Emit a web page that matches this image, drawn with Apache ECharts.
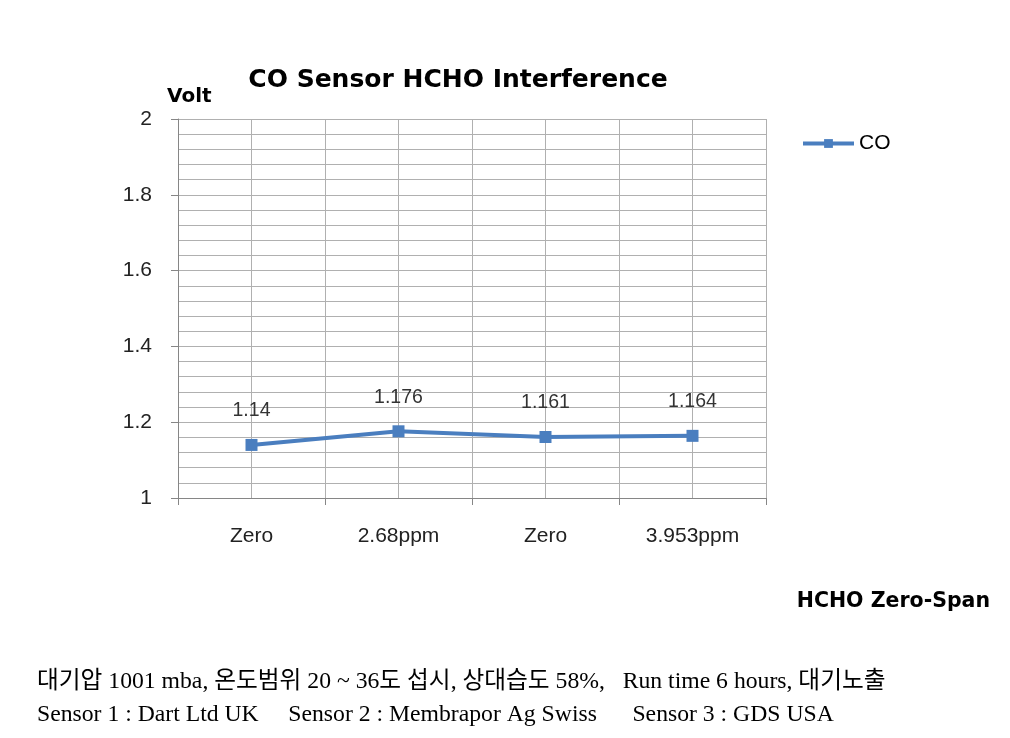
<!DOCTYPE html>
<html><head><meta charset="utf-8">
<script src="https://cdn.jsdelivr.net/npm/echarts@6/dist/echarts.min.js"></script>
<style>html,body{margin:0;padding:0;background:#fff}#c{width:1010px;height:738px}</style>
</head><body><div id="c"></div>
<script>
var categories = ['Zero', '2.68ppm', 'Zero', '3.953ppm'];
var coValues = [1.14, 1.176, 1.161, 1.164];
var seriesName = 'CO';
var titleText = 'CO Sensor HCHO Interference';
var yName = 'Volt';
var xName = 'HCHO Zero-Span';
var footLines = ['대기압 1001 mba, 온도범위 20 ~ 36도 섭시, 상대습도 58%,   Run time 6 hours, 대기노출',
                 'Sensor 1 : Dart Ltd UK     Sensor 2 : Membrapor Ag Swiss      Sensor 3 : GDS USA'];

var chart = echarts.init(document.getElementById('c'));
var grid = '#b0b0b0';
var sans = '"DejaVu Sans", Verdana, sans-serif';
var arial = '"Liberation Sans", Arial, sans-serif';
chart.setOption({
  animation: false,
  title: {text: titleText, left: 453, textAlign: 'center', top: 63,
    textStyle: {fontFamily: sans, fontWeight: 'bold', fontSize: 25, color: '#000'}},
  legend: {data: [seriesName], left: 796, top: 128, itemWidth: 51, itemHeight: 11,
    lineStyle: {width: 4},
    textStyle: {fontFamily: arial, fontSize: 21, color: '#000'}},
  grid: {left: 178, right: 244, top: 119, bottom: 240},
  xAxis: [{
    type: 'category', data: categories, boundaryGap: true,
    axisLine: {lineStyle: {color: '#868686', width: 1}},
    axisTick: {show: true, length: 7, lineStyle: {color: '#868686'}},
    axisLabel: {margin: 28, fontFamily: arial, fontSize: 21, color: '#222'},
    splitLine: {show: false},
    name: xName, nameLocation: 'end', nameGap: 224,
    nameTextStyle: {fontFamily: sans, fontWeight: 'bold', fontSize: 20.5, color: '#000',
      align: 'right', verticalAlign: 'top', padding: [93, 0, 0, 0]}
  }, {
    type: 'value', min: 0, max: 8, interval: 1, position: 'bottom',
    axisLine: {show: false}, axisTick: {show: false}, axisLabel: {show: false},
    splitLine: {show: true, lineStyle: {color: grid, width: 1}}
  }],
  yAxis: {
    type: 'value', min: 1, max: 2, interval: 0.2,
    name: yName, nameLocation: 'end', nameGap: 12,
    nameTextStyle: {fontFamily: sans, fontWeight: 'bold', fontSize: 20, color: '#000', align: 'left', padding: [0, 0, 0, -11]},
    axisLine: {show: true, lineStyle: {color: '#868686'}},
    axisTick: {show: true, length: 7, lineStyle: {color: '#868686'}},
    axisLabel: {margin: 26, fontFamily: arial, fontSize: 21, color: '#222',
      formatter: function(v){ return String(Math.round(v*10)/10); }},
    splitLine: {show: true, lineStyle: {color: grid, width: 1}},
    minorTick: {show: false, splitNumber: 5},
    minorSplitLine: {show: true, lineStyle: {color: grid, width: 1}}
  },
  series: [{
    name: seriesName, type: 'line', data: coValues, xAxisIndex: 0,
    symbol: 'rect', symbolSize: 12,
    lineStyle: {color: '#4a7ebf', width: 4},
    itemStyle: {color: '#4a7ebf'},
    label: {show: true, position: 'top', distance: 18, fontFamily: arial, fontSize: 19.5, color: '#333'}
  }],
  graphic: [
    {type: 'text', x: 37, y: 682, style: {text: footLines[0], font: '23.7px "Liberation Serif", "Noto Sans CJK KR"', fill: '#000', verticalAlign: 'middle'}},
    {type: 'text', x: 37, y: 715, style: {text: footLines[1], font: '23.7px "Liberation Serif", "Noto Sans CJK KR"', fill: '#000', verticalAlign: 'middle'}}
  ]
});
</script></body></html>
